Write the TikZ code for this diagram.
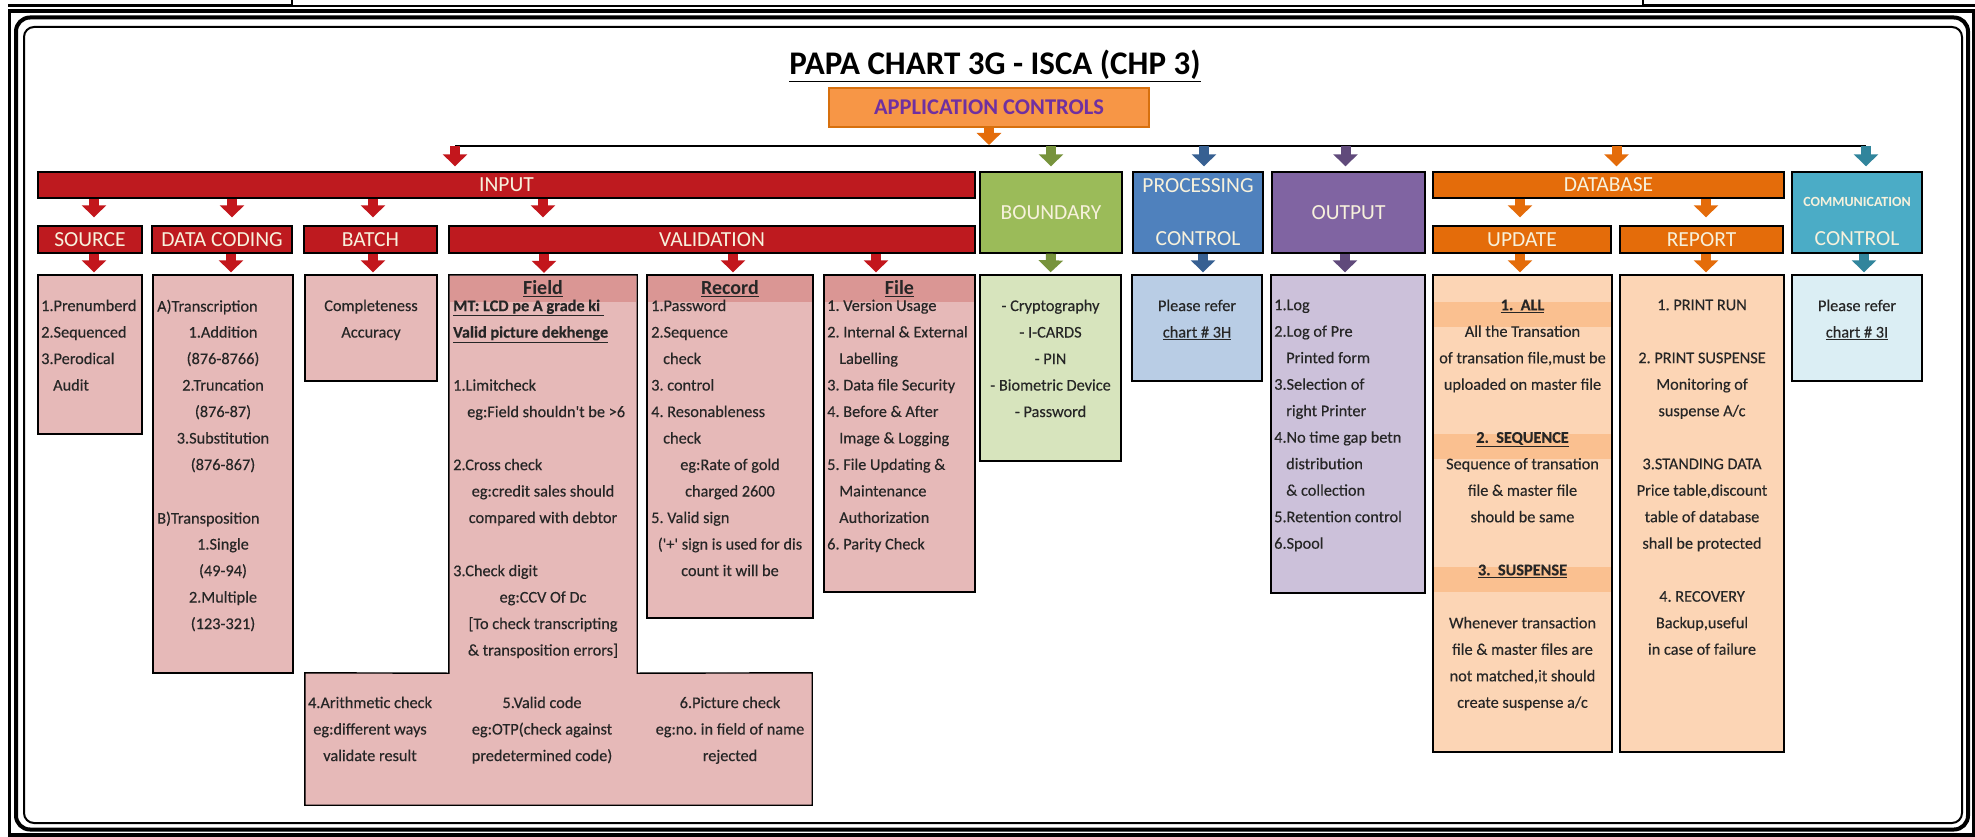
\documentclass[tikz,border=0pt]{standalone}
\usepackage{fontspec}
\setmainfont{Carlito}
\newfontfamily\bodyfnt{Carlito}[FakeBold=0.3]
\frenchspacing
\usetikzlibrary{fit,arrows.meta}
\definecolor{redbar}{HTML}{BE1A1F}
\definecolor{redarr}{HTML}{C3161C}
\definecolor{pinkbody}{HTML}{E6B9B8}
\definecolor{pinkband}{HTML}{DA9694}
\definecolor{grnbar}{HTML}{9BBB59}
\definecolor{grnbody}{HTML}{D7E4BD}
\definecolor{grnarr}{HTML}{77933C}
\definecolor{blubar}{HTML}{4F81BD}
\definecolor{blubody}{HTML}{B9CDE5}
\definecolor{bluarr}{HTML}{376092}
\definecolor{purbar}{HTML}{8064A2}
\definecolor{purbody}{HTML}{CCC1DA}
\definecolor{purarr}{HTML}{604A7B}
\definecolor{orbar}{HTML}{E46C0A}
\definecolor{orbody}{HTML}{FCD5B5}
\definecolor{orband}{HTML}{FAC090}
\definecolor{orarr}{HTML}{E46C0A}
\definecolor{cyanbar}{HTML}{4BACC6}
\definecolor{cyanbody}{HTML}{DBEEF4}
\definecolor{cyanarr}{HTML}{31859C}
\definecolor{appor}{HTML}{F79646}
\definecolor{appdark}{HTML}{D7700E}
\definecolor{apppur}{HTML}{7030A0}
\definecolor{hdrtext}{HTML}{F7F1DC}
\definecolor{bodytext}{HTML}{262626}
\tikzset{
  boxfit/.style={inner sep=0pt, draw=black, line width=1.4pt},
  bandfit/.style={inner sep=0pt, draw=none},
  htxt/.style={font=\fontsize{21.5}{26.5}\selectfont, text=hdrtext, inner sep=0pt},
  btxt/.style={font=\bodyfnt\fontsize{16.3}{26.5}\selectfont, text=bodytext, inner sep=0pt,
    anchor=north, align=center, execute at begin node=\strut},
  btxtl/.style={btxt, anchor=north west, align=left},
  subhead/.style={font=\fontsize{20}{24}\selectfont\bfseries, text=bodytext, inner sep=0pt},
  arr/.style={draw=#1, line width=10pt, -{Triangle[width=24pt,length=12pt]}},
}
\begin{document}
\begin{tikzpicture}[x=1pt,y=-1pt]
\useasboundingbox (0,0) rectangle (1975,837);
\fill[white] (0,0) rectangle (1975,837);
% ---- frame ----
\draw[line width=2.5pt] (8,5.5) -- (1975,5.5);
\draw[line width=2pt, fill=white] (292,-4) rectangle (1643,6);
\draw[line width=3.5pt] (9.5,11) rectangle (1973.5,835);
\draw[line width=4pt, rounded corners=14pt] (16,17.5) rectangle (1968,829.5);
\draw[line width=2pt, rounded corners=10pt, fill=white] (24,27) rectangle (1962,823);
% ---- title ----
\node[font=\fontsize{33}{36}\selectfont\bfseries, text=black, inner sep=0pt] (title) at (995,66) {\underline{PAPA CHART 3G - ISCA (CHP 3)}};
\node[fit={(829,88) (1149,127)}, inner sep=0pt, fill=appor, draw=appdark, line width=1.5pt] (appc) {};
\node[font=\fontsize{22.5}{24}\selectfont\bfseries, text=apppur, inner sep=0pt] (appct) at (appc.center) {APPLICATION CONTROLS};
% ---- bus ----
\coordinate (busL) at (455,146);
\coordinate (busR) at (1866,146);
\draw[line width=2.5pt] (busL) -- (busR);
% ---- row A ----
\node[boxfit, fill=redbar, fit={(38,172) (975,198)}] (input) {};
\node[boxfit, fill=grnbar, fit={(980,172) (1122,253)}] (bound) {};
\node[boxfit, fill=blubar, fit={(1133,172) (1263,253)}] (proc) {};
\node[boxfit, fill=purbar, fit={(1272,172) (1425,253)}] (outp) {};
\node[boxfit, fill=orbar, fit={(1433,172) (1784,198)}] (dbase) {};
\node[boxfit, fill=cyanbar, fit={(1792,172) (1922,253)}] (comm) {};
\node[htxt] (inputT) at (input.center) {INPUT};
\node[htxt] (boundT) at (bound.center) {BOUNDARY};
\node[htxt] (procT1) at (1198,186) {PROCESSING};
\node[htxt] (procT2) at (1198,239) {CONTROL};
\node[htxt] (outpT) at (outp.center) {OUTPUT};
\node[htxt] (dbaseT) at (dbase.center) {DATABASE};
\node[font=\fontsize{14}{16}\selectfont\bfseries, text=hdrtext, inner sep=0pt] (commT1) at (1857,202) {COMMUNICATION};
\node[htxt] (commT2) at (1857,239) {CONTROL};
% ---- row B ----
\node[boxfit, fill=redbar, fit={(38,226) (142,253)}] (srcH) {};
\node[boxfit, fill=redbar, fit={(152,226) (292,253)}] (dcH) {};
\node[boxfit, fill=redbar, fit={(304,226) (437,253)}] (batH) {};
\node[boxfit, fill=redbar, fit={(449,226) (975,253)}] (valH) {};
\node[boxfit, fill=orbar, fit={(1433,226) (1611,253)}] (updH) {};
\node[boxfit, fill=orbar, fit={(1620,226) (1783,253)}] (repH) {};
\node[htxt] (srcHT) at (srcH.center) {SOURCE};
\node[htxt] (dcHT) at (dcH.center) {DATA CODING};
\node[htxt] (batHT) at (batH.center) {BATCH};
\node[htxt] (valHT) at (valH.center) {VALIDATION};
\node[htxt] (updHT) at (updH.center) {UPDATE};
\node[htxt] (repHT) at (repH.center) {REPORT};
% ---- row C bodies ----
\node[boxfit, fill=pinkbody, fit={(38,275) (142,434)}] (srcB) {};
\node[boxfit, fill=pinkbody, fit={(153,275) (293,673)}] (dcB) {};
\node[boxfit, fill=pinkbody, fit={(305,275) (437,381)}] (batB) {};
\node[bandfit, fit={(449,275) (637,673)}] (fieldB) {};
\node[bandfit, fit={(305,673) (812,805)}] (fieldX) {};
\draw[fill=pinkbody, line width=1.4pt] (fieldB.north west) -- (fieldB.north east) -- (fieldB.south east) -- (fieldX.north east) -- (fieldX.south east) -- (fieldX.south west) -- (fieldX.north west) -- (fieldB.south west) -- cycle;
\node[boxfit, fill=pinkbody, fit={(647,275) (813,618)}] (recB) {};
\node[boxfit, fill=pinkbody, fit={(824,275) (975,592)}] (fileB) {};
\node[boxfit, fill=grnbody, fit={(980,275) (1121,461)}] (boundB) {};
\node[boxfit, fill=blubody, fit={(1132,275) (1262,381)}] (procB) {};
\node[boxfit, fill=purbody, fit={(1271,275) (1425,593)}] (outpB) {};
\node[boxfit, fill=orbody, fit={(1433,275) (1612,752)}] (updB) {};
\node[boxfit, fill=orbody, fit={(1620,275) (1784,752)}] (repB) {};
\node[boxfit, fill=cyanbody, fit={(1792,275) (1922,381)}] (commB) {};
% header bands
\node[bandfit, fill=pinkband, fit={(450,276) (636,302)}] (fieldBand) {};
\node[bandfit, fill=pinkband, fit={(648,276) (812,302)}] (recBand) {};
\node[bandfit, fill=pinkband, fit={(825,276) (974,302)}] (fileBand) {};
\node[bandfit, fill=orband, fit={(1434,302) (1611,327)}] (updBand1) {};
\node[bandfit, fill=orband, fit={(1434,434) (1611,459)}] (updBand2) {};
\node[bandfit, fill=orband, fit={(1434,567) (1611,592)}] (updBand3) {};
\node[subhead] (fieldT) at (543,289) {\underline{Field}};
\node[subhead] (recT) at (730,289) {\underline{Record}};
\node[subhead] (fileT) at (899.5,289) {\underline{File}};
% ---- arrows ----
\draw[arr=orarr, shorten >=1pt] (appc.south) -- (appc.south |- busL);
\draw[arr=redarr, shorten >=5pt] (busL) -- (busL |- input.north);
\draw[arr=grnarr, shorten >=5pt] (bound.north |- busL) -- (bound.north);
\draw[arr=bluarr, shorten >=5pt] ([xshift=6pt]proc.north |- busL) -- ([xshift=6pt]proc.north);
\draw[arr=purarr, shorten >=5pt] ([xshift=-3pt]outp.north |- busL) -- ([xshift=-3pt]outp.north);
\draw[arr=orarr, shorten >=5pt] ([xshift=8pt]dbase.north |- busL) -- ([xshift=8pt]dbase.north);
\draw[arr=cyanarr, shorten >=5pt] (busR) -- (busR |- comm.north);
% level 2
\draw[arr=redarr, shorten >=8pt] ([xshift=4pt]srcH.north |- input.south) -- ([xshift=4pt]srcH.north);
\draw[arr=redarr, shorten >=8pt] ([xshift=10pt]dcH.north |- input.south) -- ([xshift=10pt]dcH.north);
\draw[arr=redarr, shorten >=8pt] ([xshift=2.5pt]batH.north |- input.south) -- ([xshift=2.5pt]batH.north);
\draw[arr=redarr, shorten >=8pt] (fieldB.north |- input.south) -- (fieldB.north |- valH.north);
\draw[arr=orarr, shorten >=8pt] ([xshift=-2pt]updH.north |- dbase.south) -- ([xshift=-2pt]updH.north);
\draw[arr=orarr, shorten >=8pt] ([xshift=4.5pt]repH.north |- dbase.south) -- ([xshift=4.5pt]repH.north);
% level 3
\draw[arr=redarr, shorten >=2pt] ([xshift=4pt]srcB.north |- srcH.south) -- ([xshift=4pt]srcB.north);
\draw[arr=redarr, shorten >=2pt] ([xshift=8pt]dcB.north |- dcH.south) -- ([xshift=8pt]dcB.north);
\draw[arr=redarr, shorten >=2pt] ([xshift=2pt]batB.north |- batH.south) -- ([xshift=2pt]batB.north);
\draw[arr=redarr, shorten >=2pt] ([xshift=1pt]fieldB.north |- valH.south) -- ([xshift=1pt]fieldB.north);
\draw[arr=redarr, shorten >=2pt] ([xshift=3pt]recB.north |- valH.south) -- ([xshift=3pt]recB.north);
\draw[arr=redarr, shorten >=2pt] ([xshift=-23.5pt]fileB.north |- valH.south) -- ([xshift=-23.5pt]fileB.north);
\draw[arr=grnarr, shorten >=2pt] (bound.south) -- (boundB.north);
\draw[arr=bluarr, shorten >=2pt] ([xshift=6pt]procB.north |- proc.south) -- ([xshift=6pt]procB.north);
\draw[arr=purarr, shorten >=2pt] ([xshift=-3pt]outpB.north |- outp.south) -- ([xshift=-3pt]outpB.north);
\draw[arr=orarr, shorten >=2pt] ([xshift=-2.5pt]updB.north |- updH.south) -- ([xshift=-2.5pt]updB.north);
\draw[arr=orarr, shorten >=2pt] ([xshift=4pt]repB.north |- repH.south) -- ([xshift=4pt]repB.north);
\draw[arr=cyanarr, shorten >=2pt] ([xshift=7pt]commB.north |- comm.south) -- ([xshift=7pt]commB.north);
% ---- body texts ----
\node[btxtl] (srcTx) at (41,299.5) {1.Prenumberd\\2.Sequenced\\3.Perodical\\\hspace*{12pt}Audit};
\node[btxtl] (dcTxL) at (157,299.5) {A)Transcription\\[185.5pt]B)Transposition};
\node[btxt] (dcTxC) at (223,326) {1.Addition\\(876-8766)\\2.Truncation\\(876-87)\\3.Substitution\\(876-867)\\[53pt]1.Single\\(49-94)\\2.Multiple\\(123-321)};
\node[btxt] (batTx) at (371,299.5) {Completeness\\Accuracy};
\node[btxtl] (fieldTxL) at (453,299.5) {\textbf{\underline{MT: LCD pe A grade ki\ }}\\\textbf{\underline{Valid picture dekhenge}}\\[26.5pt]1.Limitcheck\\\hspace*{14pt}eg:Field shouldn\textquotesingle t be >6\\[26.5pt]2.Cross check\\[79.5pt]3.Check digit};
\node[btxt] (fieldTxC) at (543,485) {eg:credit sales should\\compared with debtor\\[53pt]eg:CCV Of Dc\\{[}To check transcripting\\\& transposition errors{]}};
\node[btxtl] (recTxL) at (651,299.5) {1.Password\\2.Sequence\\\hspace*{12pt}check\\3. control\\4. Resonableness\\\hspace*{12pt}check\\[53pt]5. Valid sign};
\node[btxt] (recTxC) at (730,458.5) {eg:Rate of gold\\charged 2600\\[26.5pt](\textquotesingle+\textquotesingle\ sign is used for dis\\count it will be};
\node[btxtl] (fileTx) at (827,299.5) {1. Version Usage\\2. Internal \& External\\\hspace*{12pt}Labelling\\3. Data file Security\\4. Before \& After\\\hspace*{12pt}Image \& Logging\\5. File Updating \&\\\hspace*{12pt}Maintenance\\\hspace*{12pt}Authorization\\6. Parity Check};
\node[btxt] (boundTx) at (1050.5,299.5) {- Cryptography\\- I-CARDS\\- PIN\\- Biometric Device\\- Password};
\node[btxt] (procTx) at (1197,299.5) {Please refer\\\underline{chart \# 3H}};
\node[btxtl] (outpTx) at (1274,299.5) {1.Log\\2.Log of Pre\\\hspace*{12pt}Printed form\\3.Selection of\\\hspace*{12pt}right Printer\\4.No time gap betn\\\hspace*{12pt}distribution\\\hspace*{12pt}\& collection\\5.Retention control\\6.Spool};
\node[btxt] (updTx) at (1522.5,299.5) {\textbf{\underline{1.\ \ ALL}}\\All the Transation\\of transation file,must be\\uploaded on master file\\[26.5pt]\textbf{\underline{2.\ \ SEQUENCE}}\\Sequence of transation\\file \& master file\\should be same\\[26.5pt]\textbf{\underline{3.\ \ SUSPENSE}}\\[26.5pt]Whenever transaction\\file \& master files are\\not matched,it should\\create suspense a/c};
\node[btxt] (repTx) at (1702,299.5) {1. PRINT RUN\\[26.5pt]2. PRINT SUSPENSE\\Monitoring of\\suspense A/c\\[26.5pt]3.STANDING DATA\\Price table,discount\\table of database\\shall be protected\\[26.5pt]4. RECOVERY\\Backup,useful\\in case of failure};
\node[btxt] (commTx) at (1857,299.5) {Please refer\\\underline{chart \# 3I}};
\node[btxt] (botTx1) at (370,696.5) {4.Arithmetic check\\eg:different ways\\validate result};
\node[btxt] (botTx2) at (542,696.5) {5.Valid code\\eg:OTP(check against\\predetermined code)};
\node[btxt] (botTx3) at (730,696.5) {6.Picture check\\eg:no. in field of name\\rejected};
\end{tikzpicture}
\end{document}
